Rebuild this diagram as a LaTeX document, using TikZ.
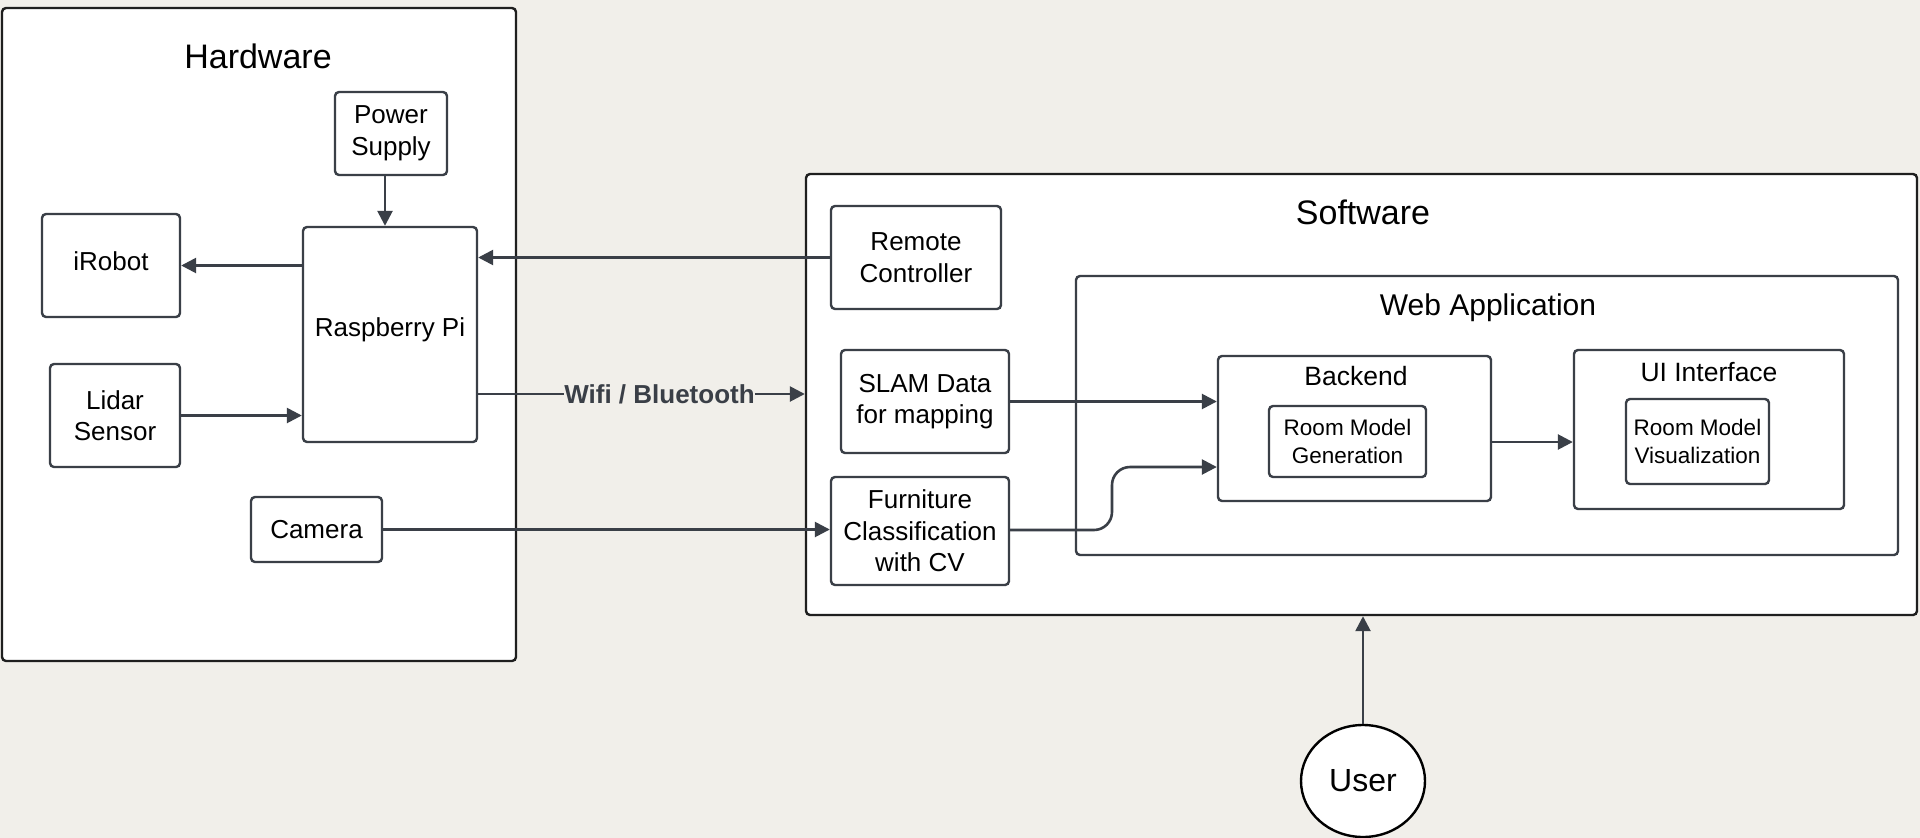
\documentclass[tikz,border=0pt]{standalone}
\usepackage{fontspec}
\setmainfont{Liberation Sans}
\usetikzlibrary{arrows.meta,shapes.geometric}
\definecolor{paper}{HTML}{F1EFEA}
\definecolor{edge}{HTML}{3A3F47}
\definecolor{outerc}{HTML}{1F1F1F}
\begin{document}
\begin{tikzpicture}[x=1pt,y=-1pt,
  box/.style={draw=edge, line width=2.4pt, fill=white, rounded corners=4pt, inner sep=0pt, align=center, font=\fontsize{26}{31.5}\selectfont},
  smallbox/.style={box, font=\fontsize{22.5}{28}\selectfont},
  outerbox/.style={draw=outerc, line width=2.4pt, fill=white, rounded corners=4pt, inner sep=0pt},
  bigtitle/.style={font=\fontsize{34}{40}\selectfont, inner sep=0pt, anchor=base},
  midtitle/.style={font=\fontsize{30}{36}\selectfont, inner sep=0pt, anchor=base},
  subtitle/.style={font=\fontsize{26.5}{32}\selectfont, inner sep=0pt, anchor=base},
  arr/.style={draw=edge, line width=2.6pt, -{Triangle[length=15pt,width=15pt]}},
  ln/.style={draw=edge, line width=2.6pt}
]
\fill[paper] (0,0) rectangle (1920,838);
\useasboundingbox (0,0) rectangle (1920,838);

% Hardware
\node[outerbox, minimum width=514pt, minimum height=653pt] (hw) at (259,334.5) {};
\node[bigtitle] (hwt) at (258,68) {Hardware};
\node[box, minimum width=112pt, minimum height=83pt] (power) at (391,133.5) {Power\\Supply};
\node[box, minimum width=138pt, minimum height=103pt, text depth=8pt] (irobot) at (111,265.5) {iRobot};
\node[box, minimum width=174pt, minimum height=215pt, text depth=14pt] (rpi) at (390,334.5) {Raspberry Pi};
\node[box, minimum width=130pt, minimum height=103pt] (lidar) at (115,415.5) {Lidar\\Sensor};
\node[box, minimum width=131pt, minimum height=65pt] (camera) at (316.5,529.5) {Camera};

% Software
\node[outerbox, minimum width=1111pt, minimum height=441pt] (sw) at (1361.5,394.5) {};
\node[bigtitle] (swt) at (1363,224) {Software};
\node[box, minimum width=170pt, minimum height=103pt] (remote) at (916,257.5) {Remote\\Controller};
\node[box, minimum width=168pt, minimum height=103pt] (slam) at (925,401.5) {SLAM Data\\for mapping};
\node[box, minimum width=178pt, minimum height=108pt] (furn) at (920,531) {Furniture\\Classification\\with CV};
\node[box, minimum width=822pt, minimum height=279pt] (web) at (1487,415.5) {};
\node[midtitle] (webt) at (1488,315) {Web Application};
\node[box, minimum width=273pt, minimum height=145pt] (backend) at (1354.5,428.5) {};
\node[subtitle] (backt) at (1356,385) {Backend};
\node[smallbox, minimum width=157pt, minimum height=71pt] (rmg) at (1347.5,441.5) {Room Model\\Generation};
\node[box, minimum width=270pt, minimum height=159pt] (ui) at (1709,429.5) {};
\node[subtitle] (uit) at (1709,381) {UI Interface};
\node[smallbox, minimum width=143pt, minimum height=85pt] (rmv) at (1697.5,441.5) {Room Model\\Visualization};

% User
\node[ellipse, draw=black, line width=2.4pt, fill=white, minimum width=124pt, minimum height=112pt, inner sep=0pt, font=\fontsize{32}{38}\selectfont] (user) at (1363,781) {User};

% Wifi label
\node[inner sep=0pt, font=\fontsize{26}{31}\selectfont\bfseries, text=edge] (wifi) at (659.5,394) {Wifi / Bluetooth};

% Connectors
\draw[arr] ([xshift=-6pt]power.south) -- ([xshift=-6pt]power.south |- rpi.north);
\draw[arr] (rpi.west |- irobot.east) -- (irobot.east);
\draw[arr] (lidar.east) -- (lidar.east -| rpi.west);
\draw[arr] (remote.west) -- (remote.west -| rpi.east);
\draw[ln] (rpi.east |- wifi.west) -- (wifi.west);
\draw[arr] (wifi.east) -- (wifi.east -| sw.west);
\draw[arr] (camera.east) -- (camera.east -| furn.west);
\draw[arr] (slam.east) -- (slam.east -| backend.west);
\coordinate (bend1) at (1112,530);
\coordinate (bend2) at (1112,467);
\draw[arr, rounded corners=18pt] (furn.east |- bend1) -- (bend1) -- (bend2) -- (bend2 -| backend.west);
\draw[arr] ([yshift=-13.5pt]backend.east) -- ([yshift=-13.5pt]backend.east -| ui.west);
\draw[arr] (user.north) -- (user.north |- sw.south);
\end{tikzpicture}
\end{document}
